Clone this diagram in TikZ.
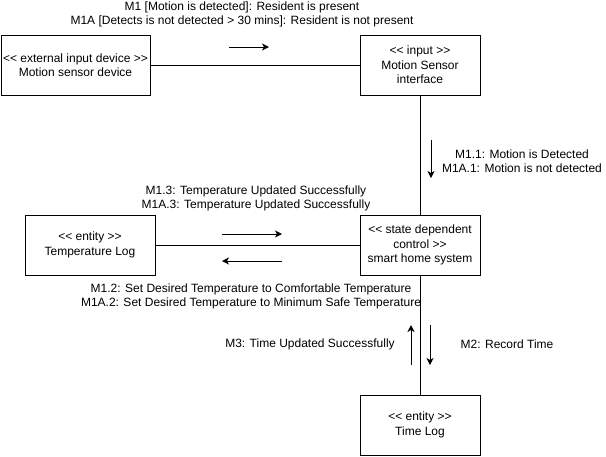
\documentclass[tikz,border=0pt]{standalone}
\usepackage{fontspec}
\setmainfont{Liberation Sans}[Ligatures=TeXOff]
\usetikzlibrary{shapes, arrows.meta}
\tikzstyle{objeto}=[draw, rectangle, line width=1pt, align=center, inner sep=0pt,
minimum height=60pt, minimum width=120pt, font=\fontsize{12}{14.5}\selectfont]
\tikzstyle{mensaje}=[align=center, font=\fontsize{12}{14}\selectfont]
\tikzstyle{punto}=[coordinate]

\begin{document}
\begin{tikzpicture}[x=1pt, y=1pt, node distance=180pt, line width=1pt,
>={Stealth[length=7pt, width=7pt, inset=2pt]}]
		\useasboundingbox (0,0) rectangle (606,-456);
		\node[objeto, minimum width=149pt] (sensor) at (75.5,-65) {<< external input device >>\\Motion sensor device};
		\node[objeto, right of=sensor, node distance=344.5pt] (entrada) {<< input >>\\Motion Sensor\\interface};
		\node[objeto, below of=entrada] (control) {<< state dependent\\control >>\\smart home system};
		\node[objeto, below of=control] (tiempo) {<< entity >>\\Time Log};
		\node[objeto, left of=control, node distance=330pt, minimum width=130pt] (temperatura) {<< entity >>\\Temperature Log};
		\draw (sensor) -- (entrada);
		\draw (entrada) -- (control);
		\draw (control) -- (tiempo);
		\draw (temperatura) -- (control);
		% mensajes
		\node[punto] (m1a) at (229,-47) {};
		\node[punto] (m1b) at (269,-47) {};
		\draw[->] (m1a) -- (m1b);
		\node[mensaje] (m1) at (242,-14) {M1 [Motion is detected]: Resident is present\\M1A [Detects is not detected > 30 mins]: Resident is not present};
		\node[punto] (m11a) at (431,-140) {};
		\node[punto] (m11b) at (431,-178) {};
		\draw[->] (m11a) -- (m11b);
		\node[mensaje] (m11) at (522,-161) {M1.1: Motion is Detected\\M1A.1: Motion is not detected};
		\node[punto] (m13a) at (222,-234) {};
		\node[punto] (m13b) at (282,-234) {};
		\draw[->] (m13a) -- (m13b);
		\node[mensaje] (m13) at (256,-198) {M1.3: Temperature Updated Successfully\\M1A.3: Temperature Updated Successfully};
		\node[punto] (m12a) at (282,-261) {};
		\node[punto] (m12b) at (222,-261) {};
		\draw[->] (m12a) -- (m12b);
		\node[mensaje] (m12) at (251,-296) {M1.2: Set Desired Temperature to Comfortable Temperature\\M1A.2: Set Desired Temperature to Minimum Safe Temperature};
		\node[punto] (m3a) at (411,-365) {};
		\node[punto] (m3b) at (411,-325) {};
		\draw[->] (m3a) -- (m3b);
		\node[mensaje] (m3) at (310,-344) {M3: Time Updated Successfully};
		\node[punto] (m2a) at (430,-325) {};
		\node[punto] (m2b) at (430,-365) {};
		\draw[->] (m2a) -- (m2b);
		\node[mensaje] (m2) at (507,-344) {M2: Record Time};
	\end{tikzpicture}
\end{document}
